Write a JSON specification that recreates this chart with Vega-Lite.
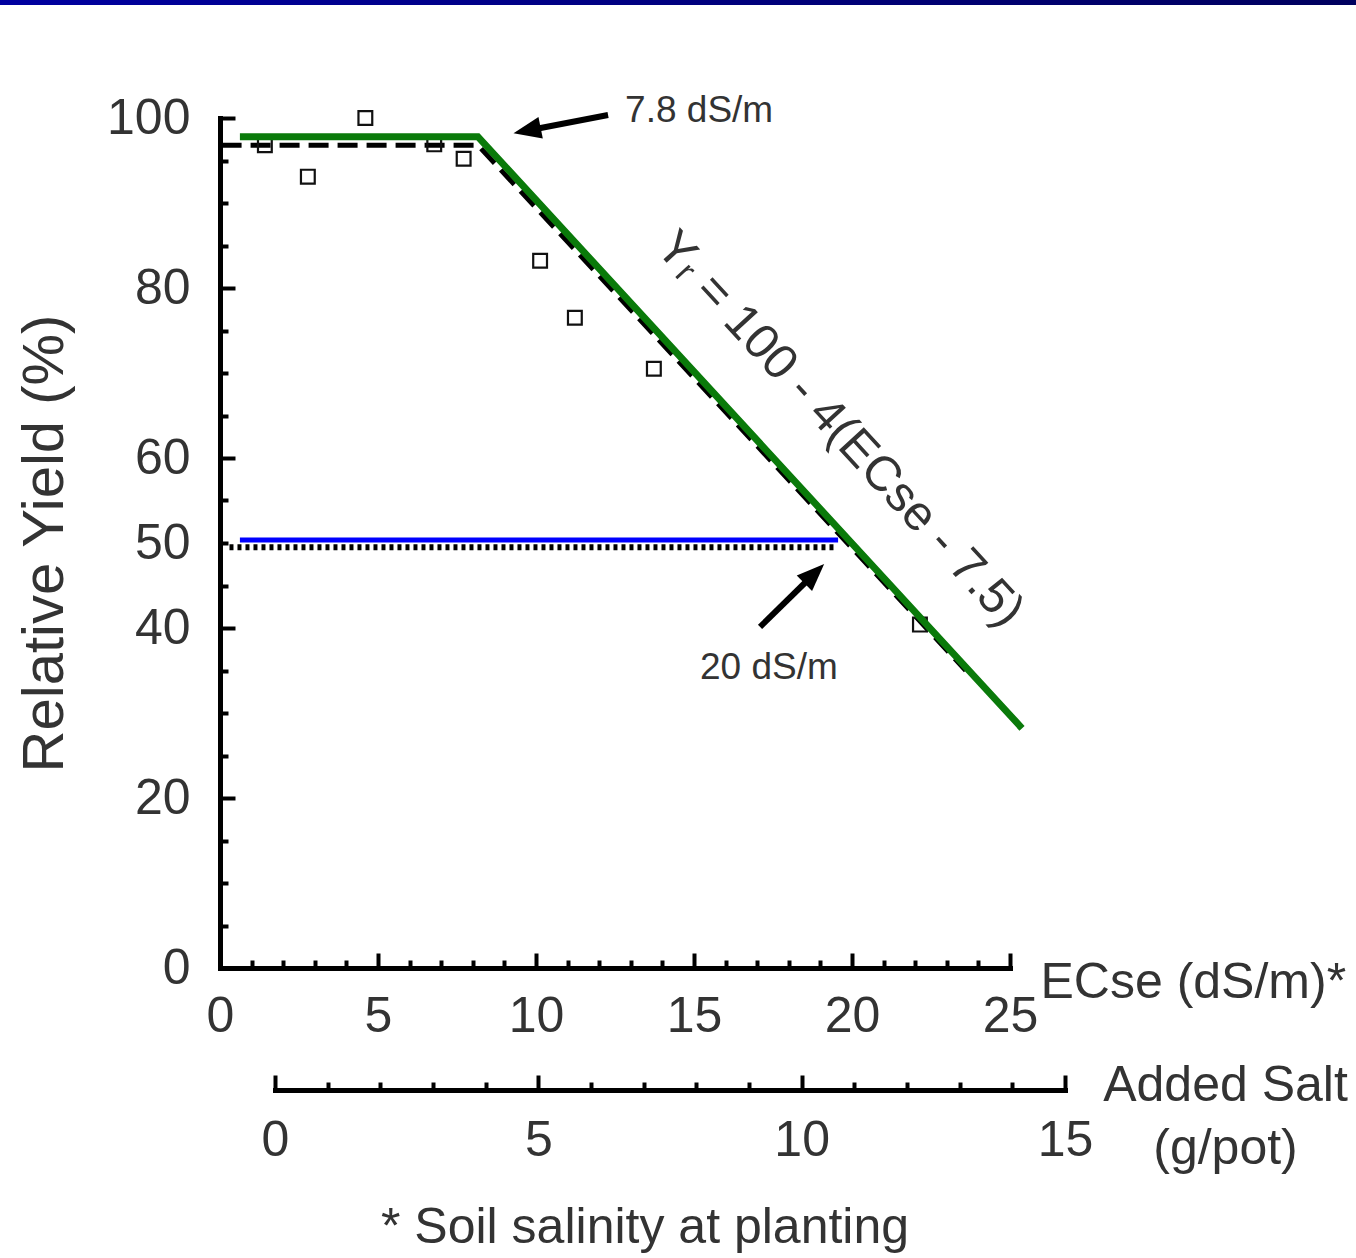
{
  "$schema": "https://vega.github.io/schema/vega-lite/v6.json",
  "width": 790,
  "height": 850,
  "autosize": {"type": "none"},
  "padding": {"left": 220, "top": 118, "right": 346, "bottom": 290},
  "background": "white",
  "config": {"view": {"stroke": null}, "font": "Liberation Sans", "axis": {"grid": false}},
  "datasets": {
    "points": [
      {"ecse": 1.42, "yield": 96.8},
      {"ecse": 2.78, "yield": 93.1},
      {"ecse": 4.6, "yield": 100.0},
      {"ecse": 6.78, "yield": 96.9},
      {"ecse": 7.71, "yield": 95.2},
      {"ecse": 10.13, "yield": 83.2},
      {"ecse": 11.23, "yield": 76.5},
      {"ecse": 13.73, "yield": 70.5},
      {"ecse": 22.15, "yield": 40.4}
    ],
    "lines": [
      {"series": "fit", "i": 1, "ecse": 0.05, "yield": 96.8},
      {"series": "fit", "i": 2, "ecse": 8.16, "yield": 96.8},
      {"series": "fit", "i": 3, "ecse": 23.6, "yield": 35.0},
      {"series": "green", "i": 1, "ecse": 0.63, "yield": 97.8},
      {"series": "green", "i": 2, "ecse": 8.16, "yield": 97.8},
      {"series": "green", "i": 3, "ecse": 25.38, "yield": 28.2},
      {"series": "blue", "i": 1, "ecse": 0.63, "yield": 50.35},
      {"series": "blue", "i": 2, "ecse": 19.56, "yield": 50.35},
      {"series": "dotted", "i": 1, "ecse": 0.3, "yield": 49.5},
      {"series": "dotted", "i": 2, "ecse": 19.5, "yield": 49.5}
    ],
    "arrows": [
      {"id": 1, "x": 12.28, "y": 100.35, "x2": 9.9, "y2": 98.65, "hx": 9.74, "hy": 98.54, "angle": 258.5},
      {"id": 2, "x": 17.09, "y": 40.12, "x2": 18.7, "y2": 46.0, "hx": 18.79, "hy": 46.34, "angle": 45.5}
    ],
    "notes": [
      {"label": "7.8 dS/m", "x": 12.82, "y": 99.5},
      {"label": "20 dS/m", "x": 15.19, "y": 34.0}
    ],
    "formula": [
      {"label": "Yᵣ = 100 - 4(ECse - 7.5)", "x": 19.62, "y": 63.4}
    ],
    "ecseTicks": [{"ecse": 0}, {"ecse": 25}],
    "salt": [{"salt": 0}, {"salt": 15}]
  },
  "layer": [
    {
      "data": {"name": "ecseTicks"},
      "mark": {"type": "point", "opacity": 0},
      "encoding": {
        "x": {"field": "ecse", "type": "quantitative", "scale": {"domain": [0, 25], "nice": false},
          "axis": {
            "orient": "bottom",
            "values": [0,1,2,3,4,5,6,7,8,9,10,11,12,13,14,15,16,17,18,19,20,21,22,23,24,25],
            "labelExpr": "datum.value % 5 === 0 ? datum.label : ''",
            "tickSize": {"condition": {"test": "datum.value % 5 === 0", "value": -15}, "value": -8},
            "tickWidth": 4, "tickColor": "black",
            "domainColor": "black", "domainWidth": 5, "domainCap": "square",
            "labelFontSize": 50, "labelColor": "#333", "labelPadding": 38, "labelFlush": false, "labelOverlap": false,
            "title": "ECse (dS/m)*", "titleFontSize": 50, "titleFontWeight": "normal", "titleColor": "#333",
            "titleX": 820, "titleY": 29, "titleAlign": "left", "titleBaseline": "alphabetic", "titleAngle": 0
          }
        },
        "y": {"datum": 0, "type": "quantitative", "scale": {"domain": [0, 100], "nice": false},
          "axis": {
            "values": [0,5,10,15,20,25,30,35,40,45,50,55,60,65,70,75,80,85,90,95,100],
            "labelExpr": "datum.value % 20 === 0 || datum.value === 50 ? datum.label : ''",
            "tickSize": {"condition": {"test": "datum.value % 20 === 0", "value": -15}, "value": -8},
            "labelPadding": {"condition": {"test": "datum.value % 20 === 0", "value": 45}, "value": 38},
            "tickWidth": 4, "tickColor": "black",
            "domainColor": "black", "domainWidth": 5, "domainCap": "square",
            "labelFontSize": 50, "labelColor": "#333", "labelFlush": false, "labelOverlap": false,
            "title": "Relative Yield (%)", "titleFontSize": 58, "titleFontWeight": "normal", "titleColor": "#333",
            "titleX": -175, "titleY": 425, "titleAngle": -90, "titleAlign": "center", "titleBaseline": "middle"
          }
        }
      }
    },
    {
      "data": {"values": [{"bar": "top"}]},
      "mark": {"type": "rect", "fill": {"gradient": "linear", "stops": [{"offset": 0, "color": "#0000a0"}, {"offset": 1, "color": "#00005e"}]}},
      "encoding": {
        "x": {"datum": -7, "type": "quantitative", "scale": {"domain": [0, 25], "nice": false}, "axis": null},
        "x2": {"datum": 36},
        "y": {"datum": 113.3, "type": "quantitative"},
        "y2": {"datum": 114.5}
      }
    },
    {
      "data": {"name": "lines"},
      "transform": [{"filter": "datum.series === 'fit'"}],
      "mark": {"type": "line", "color": "black", "strokeWidth": 5, "strokeDash": [20, 9]},
      "encoding": {
        "x": {"field": "ecse", "type": "quantitative", "scale": {"domain": [0, 25], "nice": false}, "axis": null},
        "y": {"field": "yield", "type": "quantitative"},
        "order": {"field": "i"}
      }
    },
    {
      "data": {"name": "lines"},
      "transform": [{"filter": "datum.series === 'dotted'"}],
      "mark": {"type": "line", "color": "black", "strokeWidth": 6, "strokeDash": [4, 4]},
      "encoding": {
        "x": {"field": "ecse", "type": "quantitative", "scale": {"domain": [0, 25], "nice": false}, "axis": null},
        "y": {"field": "yield", "type": "quantitative"},
        "order": {"field": "i"}
      }
    },
    {
      "data": {"name": "points"},
      "mark": {"type": "point", "shape": "square", "filled": false, "stroke": "#111", "strokeWidth": 2.2, "size": 190, "opacity": 1},
      "encoding": {
        "x": {"field": "ecse", "type": "quantitative", "scale": {"domain": [0, 25], "nice": false}, "axis": null},
        "y": {"field": "yield", "type": "quantitative"}
      }
    },
    {
      "data": {"name": "lines"},
      "transform": [{"filter": "datum.series === 'green'"}],
      "mark": {"type": "line", "color": "#0a7a0a", "strokeWidth": 7},
      "encoding": {
        "x": {"field": "ecse", "type": "quantitative", "scale": {"domain": [0, 25], "nice": false}, "axis": null},
        "y": {"field": "yield", "type": "quantitative"},
        "order": {"field": "i"}
      }
    },
    {
      "data": {"name": "lines"},
      "transform": [{"filter": "datum.series === 'blue'"}],
      "mark": {"type": "line", "color": "#0000ff", "strokeWidth": 5},
      "encoding": {
        "x": {"field": "ecse", "type": "quantitative", "scale": {"domain": [0, 25], "nice": false}, "axis": null},
        "y": {"field": "yield", "type": "quantitative"},
        "order": {"field": "i"}
      }
    },
    {
      "data": {"name": "arrows"},
      "mark": {"type": "rule", "color": "black", "strokeWidth": 6},
      "encoding": {
        "x": {"field": "x", "type": "quantitative", "scale": {"domain": [0, 25], "nice": false}, "axis": null},
        "y": {"field": "y", "type": "quantitative"},
        "x2": {"field": "x2"},
        "y2": {"field": "y2"}
      }
    },
    {
      "data": {"name": "arrows"},
      "mark": {"type": "point", "shape": "M0,-1L0.75,0.9L-0.75,0.9Z", "filled": true, "color": "black", "size": 850, "opacity": 1},
      "encoding": {
        "x": {"field": "hx", "type": "quantitative", "scale": {"domain": [0, 25], "nice": false}, "axis": null},
        "y": {"field": "hy", "type": "quantitative"},
        "angle": {"field": "angle", "type": "quantitative", "scale": null}
      }
    },
    {
      "data": {"name": "notes"},
      "mark": {"type": "text", "align": "left", "baseline": "alphabetic", "fontSize": 37, "color": "#333"},
      "encoding": {
        "x": {"field": "x", "type": "quantitative", "scale": {"domain": [0, 25], "nice": false}, "axis": null},
        "y": {"field": "y", "type": "quantitative"},
        "text": {"field": "label"}
      }
    },
    {
      "data": {"name": "formula"},
      "mark": {"type": "text", "align": "center", "baseline": "middle", "fontSize": 49, "angle": 47.4, "color": "#333"},
      "encoding": {
        "x": {"field": "x", "type": "quantitative", "scale": {"domain": [0, 25], "nice": false}, "axis": null},
        "y": {"field": "y", "type": "quantitative"},
        "text": {"field": "label"}
      }
    },
    {
      "data": {"values": [{"note": "* Soil salinity at planting"}]},
      "mark": {"type": "text", "align": "center", "baseline": "alphabetic", "fontSize": 50, "color": "#333"},
      "encoding": {
        "x": {"datum": 13.45, "type": "quantitative", "scale": {"domain": [0, 25], "nice": false}, "axis": null},
        "y": {"datum": -32.35, "type": "quantitative"},
        "text": {"field": "note"}
      }
    },
    {
      "data": {"name": "salt"},
      "mark": {"type": "point", "opacity": 0},
      "encoding": {
        "x": {"field": "salt", "type": "quantitative", "scale": {"domain": [0, 15], "range": [55, 845], "nice": false},
          "axis": {
            "orient": "bottom", "offset": 122,
            "values": [0,1,2,3,4,5,6,7,8,9,10,11,12,13,14,15],
            "labelExpr": "datum.value % 5 === 0 ? datum.label : ''",
            "tickSize": {"condition": {"test": "datum.value % 5 === 0", "value": -15}, "value": -8},
            "tickWidth": 4, "tickColor": "black",
            "domainColor": "black", "domainWidth": 5, "domainCap": "square",
            "labelFontSize": 50, "labelColor": "#333", "labelPadding": 40, "labelFlush": false, "labelOverlap": false,
            "title": ["Added Salt", "(g/pot)"], "titleFontSize": 50, "titleFontWeight": "normal", "titleColor": "#333",
            "titleX": 1005, "titleY": 10, "titleAlign": "center", "titleBaseline": "alphabetic", "titleLineHeight": 63, "titleAngle": 0
          }
        },
        "y": {"datum": 0, "type": "quantitative"}
      }
    }
  ],
  "resolve": {"scale": {"x": "independent"}, "axis": {"x": "independent"}}
}
